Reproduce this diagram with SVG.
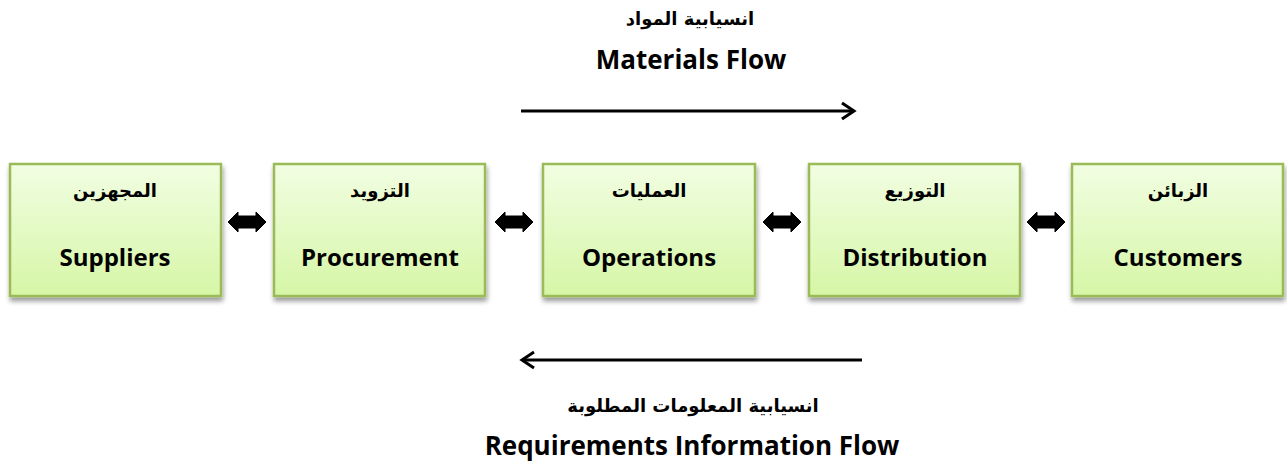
<svg xmlns="http://www.w3.org/2000/svg" width="1287" height="464" viewBox="0 0 1287 464">
<defs>
<linearGradient id="g" x1="0" y1="0" x2="0" y2="1">
<stop offset="0" stop-color="#f1fee2"/>
<stop offset="1" stop-color="#d6f6a6"/>
</linearGradient>
<filter id="sh" x="-10%" y="-10%" width="125%" height="130%">
<feGaussianBlur in="SourceAlpha" stdDeviation="2.5"/>
<feOffset dx="1" dy="4" result="b"/>
<feComponentTransfer><feFuncA type="linear" slope="0.4"/></feComponentTransfer>
<feMerge><feMergeNode/><feMergeNode in="SourceGraphic"/></feMerge>
</filter>
<marker id="open" markerWidth="20" markerHeight="20" viewBox="0 0 20 20" refX="16" refY="10" orient="auto" markerUnits="userSpaceOnUse">
<path d="M4,2 L16,10 L4,18" fill="none" stroke="#000" stroke-width="3"/>
</marker>
<path id="dbl" d="M0,10 L10,0 L10,4 L28,4 L28,0 L38,10 L28,20 L28,16 L10,16 L10,20 Z" stroke="#000" stroke-width="1" stroke-linejoin="round"/>
</defs>
<style>
.box{fill:url(#g);stroke:#9bbb59;stroke-width:2.5;filter:url(#sh)}
.ar{font-family:"DejaVu Sans","Noto Sans",sans-serif;font-weight:bold;font-size:18px;text-anchor:middle;fill:#000}
.en{font-family:"Open Sans","Noto Sans",sans-serif;font-weight:bold;font-size:24px;text-anchor:middle;fill:#000}
.ttl{font-family:"Open Sans","Noto Sans",sans-serif;font-weight:bold;font-size:26px;text-anchor:middle;fill:#000}
.ln{stroke:#000;stroke-width:3;fill:none}
</style>
<g id="title-top">
<text class="ar" x="690" y="25" direction="rtl">انسيابية المواد</text>
<text class="ttl" x="691" y="69">Materials Flow</text>
</g>
<g id="title-bottom">
<text class="ar" x="693" y="412" direction="rtl">انسيابية المعلومات المطلوبة</text>
<text class="ttl" x="692" y="455">Requirements Information Flow</text>
</g>
<g id="suppliers">
<rect class="box" x="10" y="164" width="211" height="132"/>
<text class="ar" x="115" y="197" direction="rtl">المجهزين</text>
<text class="en" x="115" y="266">Suppliers</text>
</g>
<g id="procurement">
<rect class="box" x="274" y="164" width="211" height="132"/>
<text class="ar" x="380" y="197" direction="rtl">التزويد</text>
<text class="en" x="380" y="266">Procurement</text>
</g>
<g id="operations">
<rect class="box" x="543" y="164" width="212" height="132"/>
<text class="ar" x="649" y="197" direction="rtl">العمليات</text>
<text class="en" x="649" y="266">Operations</text>
</g>
<g id="distribution">
<rect class="box" x="809" y="164" width="211" height="132"/>
<text class="ar" x="915" y="197" direction="rtl">التوزيع</text>
<text class="en" x="915" y="266">Distribution</text>
</g>
<g id="customers">
<rect class="box" x="1072" y="164" width="211" height="132"/>
<text class="ar" x="1178" y="197" direction="rtl">الزبائن</text>
<text class="en" x="1178" y="266">Customers</text>
</g>
<g id="connectors">
<use href="#dbl" x="228" y="212"/>
<use href="#dbl" x="495" y="212"/>
<use href="#dbl" x="763" y="212"/>
<use href="#dbl" x="1027" y="212"/>
<line class="ln" x1="521" y1="111" x2="854" y2="111" marker-end="url(#open)"/>
<line class="ln" x1="862" y1="360" x2="522" y2="360" marker-end="url(#open)"/>
</g>
</svg>
